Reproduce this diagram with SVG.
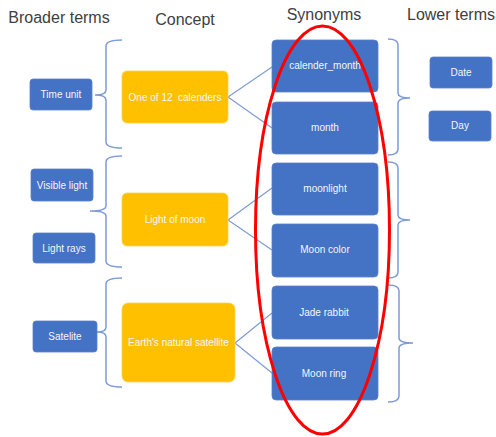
<svg xmlns="http://www.w3.org/2000/svg" width="496" height="437" viewBox="0 0 496 437">
<style>
.hdr{font-family:"Liberation Sans",Arial,sans-serif;font-size:16px;fill:#404040;text-anchor:middle}
.b{fill:#4472C4;stroke:#5B82CC;stroke-width:0.8}
.c{fill:#FFC000;stroke:#FFD24D;stroke-width:0.8}
.t{font-family:"Liberation Sans",Arial,sans-serif;font-size:10px;fill:#F4F6FB;text-anchor:middle;dominant-baseline:central}
.br{fill:none;stroke:#7E9BD6;stroke-width:1.5}
.ln{fill:none;stroke:#7E9BD6;stroke-width:1.2}
</style>
<rect width="496" height="437" fill="#ffffff"/>
<g id="headers">
<text class="hdr" x="59" y="23">Broader terms</text>
<text class="hdr" x="185" y="25">Concept</text>
<text class="hdr" x="324" y="20">Synonyms</text>
<text class="hdr" x="451" y="20">Lower terms</text>
</g>
<g id="connectors">
<path class="br" d="M122,40 Q106,40 106,46 L106,90 Q106,95 95,95 Q106,95 106,100 L106,142 Q106,148 122,148"/>
<path class="br" d="M122,156 Q106,156 106,162 L106,206 Q106,211 90,211 Q106,211 106,216 L106,261 Q106,267 122,267"/>
<path class="br" d="M122,278 Q106,278 106,284 L106,327 Q106,332 97,332 Q106,332 106,337 L106,381 Q106,387 122,387"/>
<path class="br" d="M388,39 Q398,39 398,45 L398,93 Q398,98 410,98 Q398,98 398,103 L398,149 Q398,155 388,155"/>
<path class="br" d="M388,162 Q398,162 398,168 L398,215 Q398,220 410,220 Q398,220 398,225 L398,272 Q398,278 388,278"/>
<path class="br" d="M388,285 Q399,285 399,291 L399,338 Q399,343 413,343 Q399,343 399,348 L399,396 Q399,402 388,402"/>
<path class="ln" d="M272,67 L228,97 L272,128"/>
<path class="ln" d="M272,188 L228,220 L272,250"/>
<path class="ln" d="M272,313 L235,343 L272,373"/>
</g>
<g id="time-unit"><rect class="b" x="30" y="79" width="62" height="31" rx="3"/><text class="t" x="61" y="94.5">Time unit</text></g>
<g id="visible-light"><rect class="b" x="31" y="169" width="62" height="32" rx="3"/><text class="t" x="62" y="185">Visible light</text></g>
<g id="light-rays"><rect class="b" x="33" y="233" width="62" height="30" rx="3"/><text class="t" x="64" y="248">Light rays</text></g>
<g id="satellite"><rect class="b" x="33" y="321" width="64" height="31" rx="3"/><text class="t" x="65" y="336.5">Satelite</text></g>
<g id="concept-1"><rect class="c" x="122" y="71" width="106" height="52" rx="5"/><text class="t" x="175" y="97" style="white-space:pre">One of 12  calenders</text></g>
<g id="concept-2"><rect class="c" x="122" y="193" width="106" height="53" rx="5"/><text class="t" x="175" y="219.5">Light of moon</text></g>
<g id="concept-3"><rect class="c" x="122" y="303" width="113" height="79" rx="6"/><text class="t" x="178.5" y="342.5">Earth's natural satellite</text></g>
<g id="calender-month"><rect class="b" x="272" y="40" width="106" height="52" rx="4"/><text class="t" x="325" y="65">calender_month</text></g>
<g id="month"><rect class="b" x="272" y="102" width="106" height="52" rx="4"/><text class="t" x="325" y="127">month</text></g>
<g id="moonlight"><rect class="b" x="272" y="163" width="106" height="52" rx="4"/><text class="t" x="325" y="188">moonlight</text></g>
<g id="moon-color"><rect class="b" x="272" y="224" width="106" height="53" rx="4"/><text class="t" x="325" y="249.5">Moon color</text></g>
<g id="jade-rabbit"><rect class="b" x="272" y="286" width="106" height="53" rx="4"/><text class="t" x="324" y="312">Jade rabbit</text></g>
<g id="moon-ring"><rect class="b" x="272" y="347" width="106" height="53" rx="4"/><text class="t" x="324" y="373">Moon ring</text></g>
<g id="date"><rect class="b" x="430" y="57" width="62" height="31" rx="3"/><text class="t" x="461" y="72">Date</text></g>
<g id="day"><rect class="b" x="429" y="111" width="62" height="30" rx="3"/><text class="t" x="460" y="125.5">Day</text></g>
<g id="highlight"><ellipse cx="322.5" cy="230" rx="67" ry="204" fill="none" stroke="#FF0000" stroke-width="3"/></g>
</svg>
